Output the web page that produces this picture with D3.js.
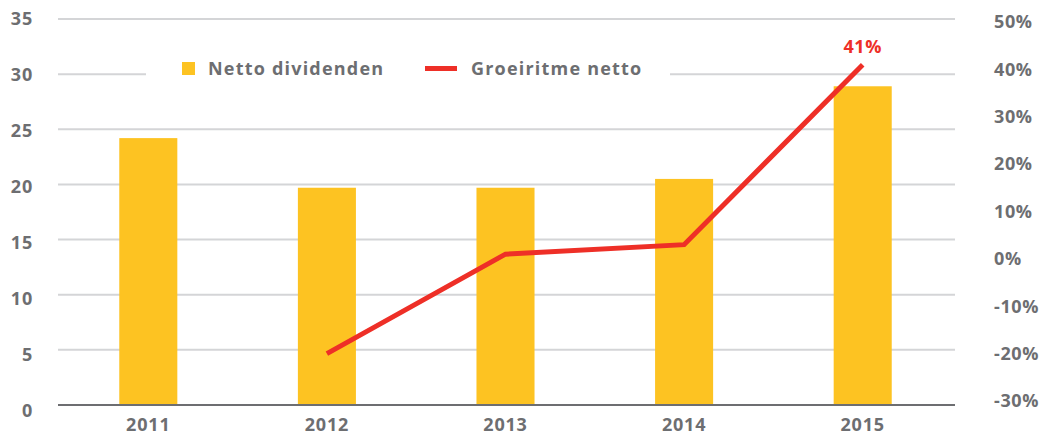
<!DOCTYPE html>
<html>
<head>
<meta charset="utf-8">
<script src="https://cdn.jsdelivr.net/npm/d3@7"></script>
<style>
  html, body { margin: 0; padding: 0; background: #fff; }
  svg { display: block; }
  text { font-family: "Open Sans", Lato, sans-serif; font-weight: 700; }
</style>
</head>
<body>
<svg id="chart" width="1040" height="435"></svg>
<script>
// Net dividends (bars, left axis) and net growth rate (line, right axis)
const years = ["2011", "2012", "2013", "2014", "2015"];
const dividends = [24.2, 19.7, 19.7, 20.5, 28.9];
const growthYears = ["2012", "2013", "2014", "2015"];
const growth = [-20, 1, 3, 41];
const leftTicks = [0, 5, 10, 15, 20, 25, 30, 35];
const rightTicks = [-30, -20, -10, 0, 10, 20, 30, 40, 50];
const legendLabels = ["Netto dividenden", "Groeiritme netto"];

const gray = "#6d6e71";
const gridGray = "#d4d5d7";
const yellow = "#fdc322";
const red = "#ee2f27";

const svg = d3.select("#chart");

const x = d3.scaleBand().domain(years).range([59, 952])
  .paddingInner(0.675).paddingOuter(0.3375);
const y = d3.scaleLinear().domain([0, 35]).range([405, 19]);
const yLabel = d3.scaleLinear().domain([0, 35]).range([411, 18.5]);
const y2 = d3.scaleLinear().domain([-30, 50]).range([401, 22]);

// horizontal gridlines
svg.append("g").selectAll("line")
  .data(leftTicks.filter(d => d > 0))
  .join("line")
  .attr("x1", 58).attr("x2", 955)
  .attr("y1", d => y(d)).attr("y2", d => y(d))
  .attr("stroke", gridGray).attr("stroke-width", 2);

// bars
svg.append("g").selectAll("rect")
  .data(years.map((yr, i) => ({ yr, v: dividends[i] })))
  .join("rect")
  .attr("x", d => x(d.yr))
  .attr("width", x.bandwidth())
  .attr("y", d => y(d.v))
  .attr("height", d => y(0) - y(d.v))
  .attr("fill", yellow);

// baseline
svg.append("line")
  .attr("x1", 58).attr("x2", 955)
  .attr("y1", y(0)).attr("y2", y(0))
  .attr("stroke", gray).attr("stroke-width", 2);

// left axis labels
svg.append("g").selectAll("text")
  .data(leftTicks)
  .join("text")
  .attr("x", 33).attr("y", d => yLabel(d))
  .attr("dy", "0.35em")
  .attr("text-anchor", "end")
  .attr("font-size", 18)
  .attr("letter-spacing", 0.8)
  .attr("fill", gray)
  .text(d => d);

// right axis labels
svg.append("g").selectAll("text")
  .data(rightTicks)
  .join("text")
  .attr("x", 994).attr("y", d => y2(d))
  .attr("dy", "0.35em")
  .attr("text-anchor", "start")
  .attr("font-size", 18)
  .attr("letter-spacing", 0.6)
  .attr("fill", gray)
  .text(d => d + "%");

// year labels
svg.append("g").selectAll("text")
  .data(years)
  .join("text")
  .attr("x", d => x(d) + x.bandwidth() / 2)
  .attr("y", 425)
  .attr("dy", "0.35em")
  .attr("text-anchor", "middle")
  .attr("font-size", 18)
  .attr("letter-spacing", 0.8)
  .attr("fill", gray)
  .text(d => d);

// growth line
const pts = growthYears.map((yr, i) => ({ yr, v: growth[i] }));
const line = d3.line()
  .x(d => x(d.yr) + x.bandwidth() / 2)
  .y(d => y2(d.v));
svg.append("path")
  .datum(pts)
  .attr("d", line)
  .attr("fill", "none")
  .attr("stroke", red)
  .attr("stroke-width", 5)
  .attr("stroke-linejoin", "miter");

// value label for the last point
const last = pts[pts.length - 1];
svg.append("text")
  .attr("x", x(last.yr) + x.bandwidth() / 2)
  .attr("y", y2(last.v) - 12)
  .attr("text-anchor", "middle")
  .attr("font-size", 18)
  .attr("letter-spacing", 0.6)
  .attr("fill", red)
  .text(last.v + "%");

// legend
const legend = svg.append("g");
legend.append("rect")
  .attr("x", 146).attr("y", 52).attr("width", 524).attr("height", 32)
  .attr("fill", "#fff");
legend.append("rect")
  .attr("x", 182).attr("y", 62).attr("width", 13).attr("height", 13)
  .attr("fill", yellow);
legend.append("text")
  .attr("x", 208).attr("y", 68.5).attr("dy", "0.35em")
  .attr("font-size", 18).attr("letter-spacing", 1.2).attr("fill", gray)
  .text(legendLabels[0]);
legend.append("line")
  .attr("x1", 425).attr("x2", 457).attr("y1", 68.5).attr("y2", 68.5)
  .attr("stroke", red).attr("stroke-width", 5);
legend.append("text")
  .attr("x", 471).attr("y", 68.5).attr("dy", "0.35em")
  .attr("font-size", 18).attr("letter-spacing", 1.2).attr("fill", gray)
  .text(legendLabels[1]);
</script>
</body>
</html>
